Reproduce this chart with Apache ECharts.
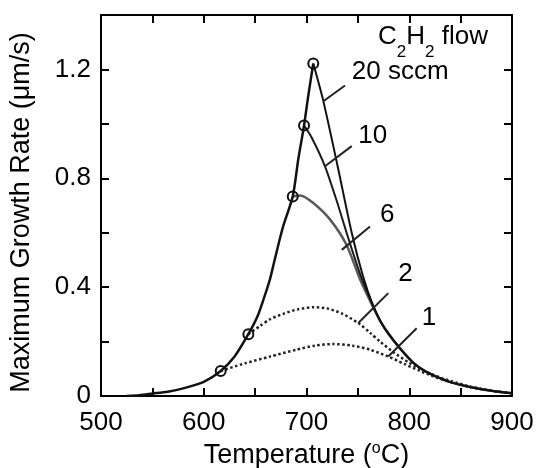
<!DOCTYPE html>
<html>
<head>
<meta charset="utf-8">
<script src="https://cdn.jsdelivr.net/npm/echarts@6/dist/echarts.min.js"></script>
<style>html,body{margin:0;padding:0;background:#fff;}#c{width:537px;height:468px;}</style>
</head>
<body>
<div id="c"></div>
<script>
// ---- data (temperature in °C, rate in µm/s) ----
const xTickLabels = ['500', '600', '700', '800', '900'];
const yTickLabels = ['0', '0.4', '0.8', '1.2'];

// common rising envelope (solid)
const envT = [525, 537, 550, 565, 580, 600, 616.5, 630, 643.4, 652, 658, 664.5, 669, 677, 686.6, 692, 697.6, 702, 706.6];
const envR = [0, 0.003, 0.009, 0.016, 0.028, 0.052, 0.092, 0.145, 0.227, 0.29, 0.353, 0.43, 0.50, 0.62, 0.733, 0.87, 0.994, 1.11, 1.222];

// 20 sccm
const t20 = [706.6, 716, 730, 744, 755, 765, 772, 780, 791, 804, 815, 827, 840, 859, 880, 900];
const r20 = [1.222, 1.09, 0.85, 0.60, 0.44, 0.33, 0.275, 0.228, 0.175, 0.122, 0.092, 0.07, 0.051, 0.033, 0.019, 0.01];
// 10 sccm
const t10 = [697.6, 705, 718, 730, 739, 752, 765, 772, 780, 791, 804, 815, 827, 840, 859, 880, 900];
const r10 = [0.994, 0.95, 0.844, 0.71, 0.60, 0.45, 0.33, 0.275, 0.228, 0.175, 0.122, 0.092, 0.07, 0.051, 0.033, 0.019, 0.01];
// 6 sccm
const t6 = [686.6, 694, 706.6, 723, 739, 752, 765, 772, 780, 791, 804, 815, 827, 840, 859, 880, 900];
const r6 = [0.733, 0.737, 0.709, 0.648, 0.555, 0.43, 0.325, 0.273, 0.227, 0.175, 0.122, 0.092, 0.07, 0.051, 0.033, 0.019, 0.01];
// 2 sccm (dotted)
const t2 = [643.4, 655, 664.5, 677.4, 692, 706.6, 720, 735, 750.4, 762, 771.5, 785, 800, 815, 830, 845, 860, 880, 900];
const r2 = [0.227, 0.258, 0.282, 0.302, 0.319, 0.326, 0.322, 0.302, 0.268, 0.232, 0.20, 0.16, 0.122, 0.092, 0.068, 0.05, 0.034, 0.019, 0.01];
// 1 sccm (dotted)
const t1 = [616.5, 640, 664.5, 690, 708, 726, 745, 762, 779.6, 795, 810, 825, 840, 860, 880, 900];
const r1 = [0.092, 0.12, 0.145, 0.17, 0.185, 0.191, 0.185, 0.17, 0.145, 0.118, 0.093, 0.07, 0.051, 0.033, 0.019, 0.01];

// open circles where each flow departs from the envelope
const circT = [616.5, 643.4, 686.6, 697.6, 706.6];
const circR = [0.092, 0.227, 0.733, 0.994, 1.222];

// curve labels and leader lines
const labelText = ['20 sccm', '10', '6', '2', '1'];
const labelT = [744.1, 750.4, 771.5, 789.3, 812.1];
const labelR = [1.193, 0.957, 0.666, 0.449, 0.289];
const leadT0 = [737.5, 744, 761.8, 779.6, 807.2];
const leadR0 = [1.141, 0.918, 0.623, 0.378, 0.249];
const leadT1 = [716.4, 718, 734.3, 750.4, 779.6];
const leadR1 = [1.083, 0.844, 0.537, 0.268, 0.145];
const titleT = [769.6];
const titleR = [1.318];

// ---- chart ----
const FONT = '"Liberation Sans", Arial, Helvetica, sans-serif';
const INK = '#000';
const zip = (a, b) => a.map((v, i) => [v, b[i]]);

function line(t, r, color, width, type, z) {
  return {
    type: 'line', data: zip(t, r), symbol: 'none', smooth: 0.25,
    lineStyle: { color: color, width: width, type: type },
    z: z, silent: true
  };
}

const series = [
  line(t1, r1, '#222', 2.5, 'dotted', 2),
  line(t2, r2, '#222', 2.5, 'dotted', 2),
  line(t6, r6, '#5a5a5a', 2.5, 'solid', 3),
  line(t10, r10, '#1a1a1a', 2, 'solid', 3),
  line(t20, r20, '#111', 2, 'solid', 3),
  line(envT, envR, '#111', 2.5, 'solid', 4)
];
// leader lines
for (let i = 0; i < leadT0.length; i++) {
  series.push({
    type: 'line', data: [[leadT0[i], leadR0[i]], [leadT1[i], leadR1[i]]],
    symbol: 'none', lineStyle: { color: '#222', width: 2 }, z: 5, silent: true
  });
}
// circles
series.push({
  type: 'scatter', data: zip(circT, circR), symbol: 'circle', symbolSize: 10,
  itemStyle: { color: 'rgba(0,0,0,0)', borderColor: '#111', borderWidth: 2, opacity: 1 }, z: 6, silent: true
});
// labels
const labelStyle = { show: true, position: 'right', distance: 0, color: INK, opacity: 1, fontFamily: FONT, fontSize: 26 };
series.push({
  type: 'scatter', symbolSize: 0, silent: true, z: 7,
  itemStyle: { opacity: 1 },
  data: labelT.map((t, i) => ({ value: [t, labelR[i]], label: { formatter: labelText[i] } })),
  label: labelStyle
});
series.push({
  type: 'scatter', symbolSize: 0, silent: true, z: 7,
  itemStyle: { opacity: 1 },
  data: zip(titleT, titleR),
  label: Object.assign({}, labelStyle, {
    formatter: 'C{sub|2}H{sub|2} flow',
    rich: { sub: { fontSize: 17, fontFamily: FONT, color: INK, padding: [30, 0, 0, 0] } }
  })
});

const axisLine = { show: true, onZero: false, lineStyle: { color: INK, width: 2 } };
const tick = { show: true, inside: true, length: 8, lineStyle: { color: INK, width: 2 } };

function xFmt(v) {
  const idx = xTickLabels.indexOf(String(Math.round(v)));
  return idx >= 0 ? xTickLabels[idx] : '';
}
function yFmt(v) {
  const r = Math.round(v * 10) / 10;
  const s = r === 0 ? '0' : r.toFixed(1);
  return yTickLabels.indexOf(s) >= 0 ? s : '';
}

const option = {
  animation: false,
  backgroundColor: '#fff',
  grid: { left: 101, top: 15, right: 25, bottom: 72, containLabel: false, outerBoundsMode: 'none' },
  xAxis: [{
    type: 'value', min: 500, max: 900, interval: 50, position: 'bottom',
    axisLine: axisLine, axisTick: tick, splitLine: { show: false },
    axisLabel: { formatter: xFmt, color: INK, fontFamily: FONT, fontSize: 26, margin: 14 },
    name: 'Temperature ({sup|o}C)', nameLocation: 'middle', nameGap: 43,
    nameTextStyle: {
      color: INK, fontFamily: FONT, fontSize: 27,
      rich: { sup: { fontSize: 16, fontFamily: FONT, color: INK, padding: [0, 0, 14, 0] } }
    }
  }, {
    type: 'value', min: 500, max: 900, interval: 50, position: 'top',
    axisLine: axisLine, axisTick: tick, splitLine: { show: false }, axisLabel: { show: false }
  }],
  yAxis: [{
    type: 'value', min: 0, max: 1.4, interval: 0.2, position: 'left',
    axisLine: axisLine, axisTick: tick, splitLine: { show: false },
    axisLabel: { formatter: yFmt, color: INK, fontFamily: FONT, fontSize: 26, margin: 10 },
    name: 'Maximum Growth Rate (\u03bcm/s)', nameLocation: 'middle', nameGap: 66,
    nameTextStyle: { color: INK, fontFamily: FONT, fontSize: 27, padding: [0, 14, 0, 0] }
  }, {
    type: 'value', min: 0, max: 1.4, interval: 0.2, position: 'right',
    axisLine: axisLine, axisTick: tick, splitLine: { show: false }, axisLabel: { show: false }
  }],
  series: series
};

const chart = echarts.init(document.getElementById('c'), null, { renderer: 'canvas' });
chart.setOption(option);
</script>
</body>
</html>
